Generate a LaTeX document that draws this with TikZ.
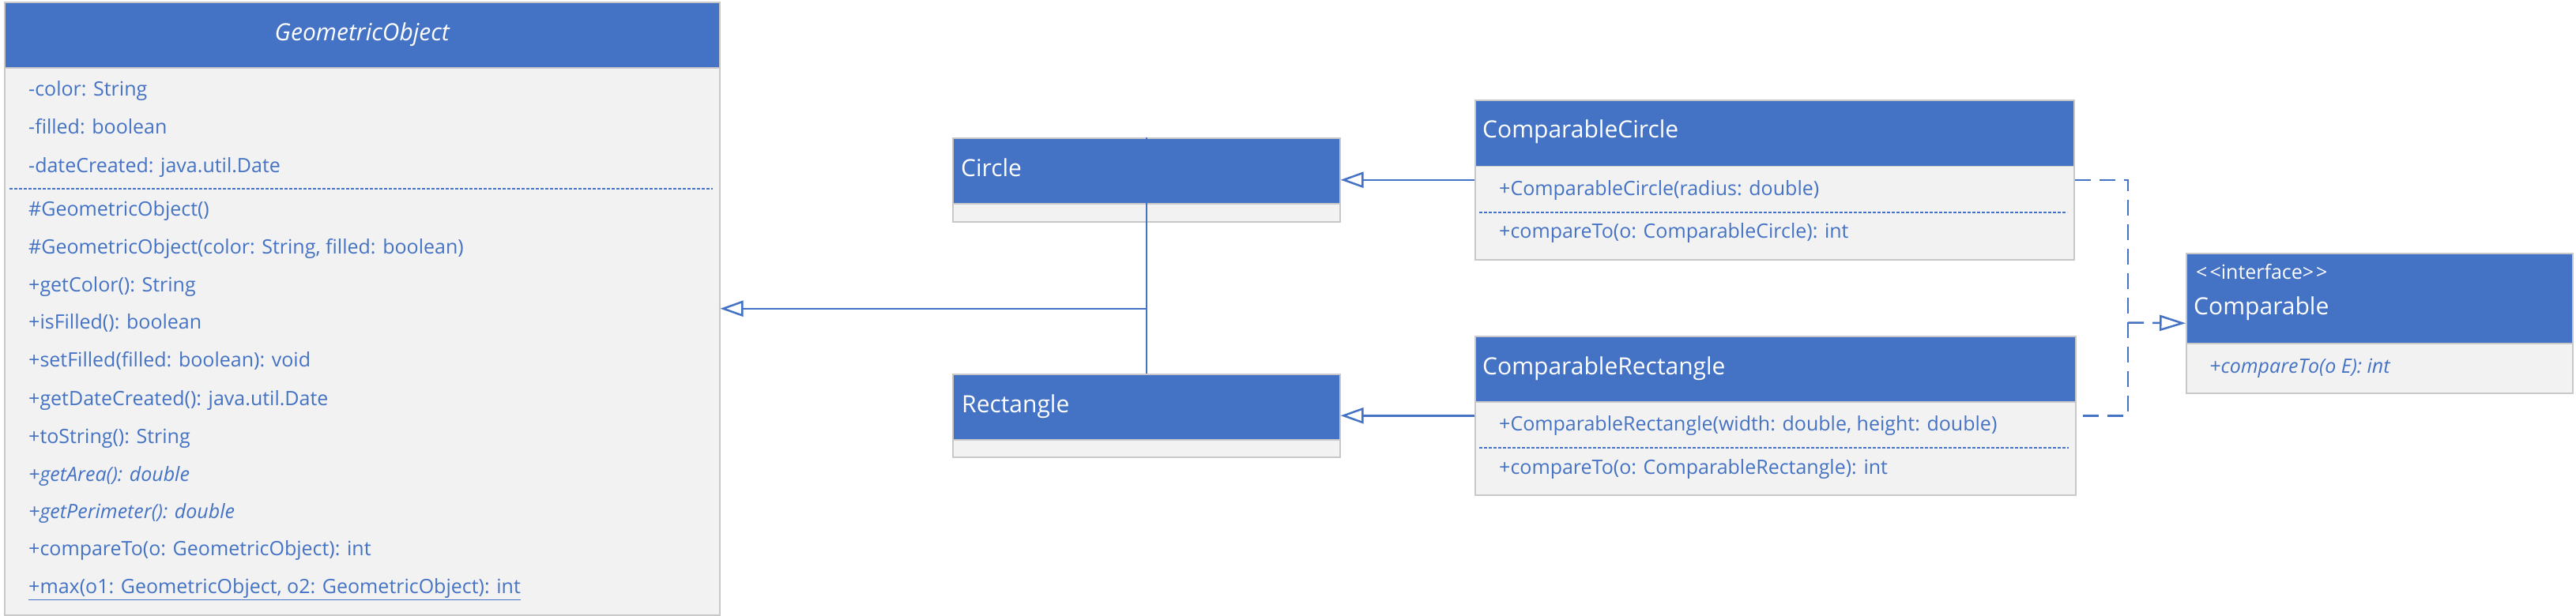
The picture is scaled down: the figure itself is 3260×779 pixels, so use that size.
\documentclass[tikz,border=0pt]{standalone}
\usepackage{fontspec}
\setmainfont{Open Sans}
\usepackage{tikz}
\usepackage{xcolor}
\usetikzlibrary{arrows.meta}

\definecolor{umlblue}{HTML}{4472C4}
\definecolor{bodygray}{HTML}{F2F2F2}
\definecolor{edgegray}{HTML}{C8C8C8}
\newcommand{\headfont}{\fontsize{30}{36}\selectfont}
\newcommand{\itemfont}{\fontsize{25}{30}\selectfont}

\tikzset{
  classbox/.style={draw=edgegray,line width=1.5pt,fill=bodygray,anchor=north west,inner sep=0pt},
  classhead/.style={draw=edgegray,line width=1.5pt,fill=umlblue,anchor=north west,inner sep=0pt},
  headtext/.style={text=white,font=\headfont,anchor=west,inner sep=0pt,text height=22pt,text depth=7pt},
  member/.style={text=umlblue,font=\itemfont,anchor=west,inner sep=0pt,text height=19pt,text depth=6pt},
  divider/.style={umlblue,line width=2pt,dash pattern=on 4pt off 2pt},
  tree/.style={umlblue,line width=2.5pt},
  extends/.style={tree,-{Triangle[open,length=29pt,width=20pt]}},
  realizes/.style={umlblue,line width=2.5pt,dash pattern=on 20pt off 11pt},
}

\begin{document}
\begin{tikzpicture}[x=1pt,y=-1pt]
    \useasboundingbox (0,0) rectangle (3260,779);

    % GeometricObject
    \node[classbox,minimum width=905pt,minimum height=776pt] (go) at (5,2) {};
    \node[classhead,minimum width=905pt,minimum height=83pt] (goHead) at (go.north west) {};
    \node[headtext,anchor=center,font=\headfont\itshape] (goName) at (goHead.center) {GeometricObject};
    \node[member] (goA1) at (36,115) {-color: String};
    \node[member] (goA2) at (36,163) {-filled: boolean};
    \node[member] (goA3) at (36,212) {-dateCreated: java.util.Date};
    \draw[divider] (12,239) -- (902,239);
    \node[member] (goM1) at (36,267) {\#GeometricObject()};
    \node[member] (goM2) at (36,315) {\#GeometricObject(color: String, filled: boolean)};
    \node[member] (goM3) at (36,363) {+getColor(): String};
    \node[member] (goM4) at (36,410) {+isFilled(): boolean};
    \node[member] (goM5) at (36,458) {+setFilled(filled: boolean): void};
    \node[member] (goM6) at (36,507) {+getDateCreated(): java.util.Date};
    \node[member] (goM7) at (36,555) {+toString(): String};
    \node[member,font=\itemfont\itshape] (goM8) at (36,603) {+getArea(): double};
    \node[member,font=\itemfont\itshape] (goM9) at (36,650) {+getPerimeter(): double};
    \node[member] (goM10) at (36,697) {+compareTo(o: GeometricObject): int};
    \node[member] (goM11) at (36,745) {\underline{+max(o1: GeometricObject, o2: GeometricObject): int}};

    % Circle and Rectangle
    \node[classbox,minimum width=490pt,minimum height=106pt] (circle) at (1205,174) {};
    \node[classhead,minimum width=490pt,minimum height=83pt] (circleHead) at (circle.north west) {};
    \node[headtext] (circleName) at (1216,215.5) {Circle};

    \node[classbox,minimum width=490pt,minimum height=105pt] (rect) at (1205,473) {};
    \node[classhead,minimum width=490pt,minimum height=83pt] (rectHead) at (rect.north west) {};
    \node[headtext] (rectName) at (1217,514.5) {Rectangle};

    % ComparableCircle
    \node[classbox,minimum width=758pt,minimum height=202pt] (cc) at (1866,126) {};
    \node[classhead,minimum width=758pt,minimum height=83.5pt] (ccHead) at (cc.north west) {};
    \node[headtext] (ccName) at (1876,167) {ComparableCircle};
    \node[member] (ccM1) at (1897,240.5) {+ComparableCircle(radius: double)};
    \draw[divider] (1872,268.7) -- (2616,268.7);
    \node[member] (ccM2) at (1897,295) {+compareTo(o: ComparableCircle): int};

    % ComparableRectangle
    \node[classbox,minimum width=760pt,minimum height=201pt] (cr) at (1866,425) {};
    \node[classhead,minimum width=760pt,minimum height=83pt] (crHead) at (cr.north west) {};
    \node[headtext] (crName) at (1876,466.5) {ComparableRectangle};
    \node[member] (crM1) at (1897,539) {+ComparableRectangle(width: double, height: double)};
    \draw[divider] (1872,567.3) -- (2618,567.3);
    \node[member] (crM2) at (1897,594) {+compareTo(o: ComparableRectangle): int};

    % Comparable interface
    \node[classbox,minimum width=489pt,minimum height=177pt] (comp) at (2766,320) {};
    \node[classhead,minimum width=489pt,minimum height=114pt] (compHead) at (comp.north west) {};
    \node[headtext,font=\itemfont] (compKind) at (2779,346) {<\kern3pt<interface>\kern3pt>};
    \node[headtext] (compName) at (2776,390.5) {Comparable};
    \node[member,font=\itemfont\itshape] (compM1) at (2796,466) {+compareTo(o E): int};

    % Inheritance
    \coordinate (joint) at (circle.north |- go.east);
    \draw[tree] (circle.north) -- (rect.north);
    \draw[extends] (joint) -- (go.east);
    \draw[extends] (cc.west) -- (circle.east);
    \draw[extends] (cr.west) -- (rect.east);

    % Realization
    \coordinate (bus) at (2693,408.5);
    \draw[realizes] (cc.east) -| (bus) |- (cr.east);
    \draw[realizes,-{Triangle[open,length=33pt,width=20pt]}] (bus) -- (comp.west);
\end{tikzpicture}
\end{document}
